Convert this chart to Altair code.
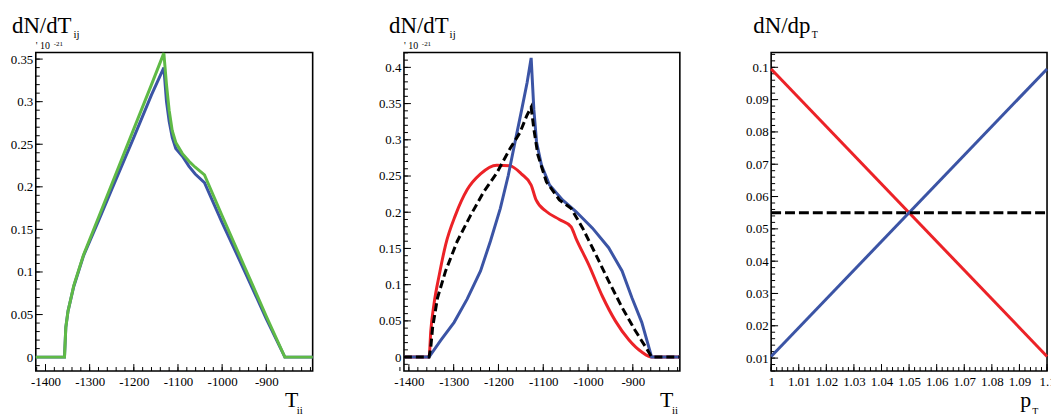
import altair as alt
import pandas as pd

FONT = "Liberation Serif"
BLUE = "#3b54a5"
GREEN = "#5fba46"
RED = "#ec2227"
BLACK = "#000000"

# ---------------- left panel: dN/dT_ij ----------------
left_T = [-1422, -1357, -1354, -1349, -1336, -1314, -1280, -1250, -1200, -1160, -1132,
          -1126, -1120, -1113, -1105, -1090, -1075, -1061, -1040, -1000, -950, -900, -858, -795]
left_blue = [0, 0, 0.035, 0.054, 0.083, 0.119, 0.160, 0.197, 0.258, 0.308, 0.340,
             0.300, 0.277, 0.258, 0.245, 0.236, 0.224, 0.215, 0.205, 0.158, 0.102, 0.045, 0, 0]
left_green = [0, 0, 0.035, 0.054, 0.084, 0.120, 0.164, 0.203, 0.268, 0.320, 0.357,
              0.320, 0.290, 0.266, 0.252, 0.239, 0.230, 0.223, 0.214, 0.166, 0.107, 0.048, 0, 0]

# ---------------- middle panel: dN/dT_ij ----------------
mid_red_T = [-1411, -1355, -1351, -1344, -1332, -1318, -1296, -1270, -1240, -1204, -1174,
             -1149, -1127, -1116, -1093, -1064, -1038, -1027, -998, -968, -939, -909, -880, -858, -795]
mid_red = [0, 0, 0.037, 0.073, 0.114, 0.155, 0.196, 0.231, 0.253, 0.265, 0.264,
           0.253, 0.2375, 0.217, 0.201, 0.190, 0.180, 0.164, 0.127, 0.084, 0.050, 0.024, 0.007, 0, 0]

mid_blue_T = [-1411, -1355, -1329, -1299, -1270, -1240, -1218, -1196, -1178, -1163, -1148,
              -1136, -1127, -1121, -1115, -1104, -1086, -1057, -1027, -990, -954, -924, -902,
              -880, -858, -795]
mid_blue = [0, 0, 0.023, 0.048, 0.080, 0.119, 0.160, 0.205, 0.251, 0.297, 0.342,
            0.379, 0.413, 0.342, 0.297, 0.265, 0.2375, 0.217, 0.201, 0.178, 0.151, 0.119, 0.082,
            0.048, 0, 0]

mid_dash_T = [-1411, -1355, -1351, -1347, -1336, -1318, -1292, -1262, -1233, -1204, -1174,
              -1152, -1137, -1127, -1121, -1112, -1093, -1064, -1038, -1012, -983, -954, -924,
              -895, -869, -858, -795]
mid_dash = [0, 0, 0.014, 0.041, 0.082, 0.119, 0.160, 0.196, 0.228, 0.254, 0.288,
            0.310, 0.333, 0.345, 0.315, 0.279, 0.242, 0.217, 0.2055, 0.178, 0.142, 0.105, 0.0685,
            0.037, 0.0115, 0, 0]

# ---------------- right panel: dN/dp_T ----------------
right_pT = [1.0, 1.1]
right_red = [0.0995, 0.0105]
right_blue = [0.0105, 0.0995]
right_dash = [0.055, 0.055]

# ---------------- axis ticks / labels ----------------
T_ticks = [-1400, -1300, -1200, -1100, -1000, -900]
left_yticks = [0, 0.05, 0.1, 0.15, 0.2, 0.25, 0.3, 0.35]
mid_yticks = [0, 0.05, 0.1, 0.15, 0.2, 0.25, 0.3, 0.35, 0.4]
right_xticks = [1, 1.01, 1.02, 1.03, 1.04, 1.05, 1.06, 1.07, 1.08, 1.09, 1.1]
right_yticks = [0.01, 0.02, 0.03, 0.04, 0.05, 0.06, 0.07, 0.08, 0.09, 0.1]

T_minor = list(range(-1420, -799, 20))
left_yminor = [round(i * 0.01, 2) for i in range(-1, 36)]
mid_yminor = [round(i * 0.01, 2) for i in range(-1, 43)]
right_xminor = [round(1 + i * 0.002, 3) for i in range(0, 51)]
right_yminor = [round(0.006 + i * 0.002, 3) for i in range(0, 50)]

PANEL_H = 321
MAJ = 7
MIN = 4
LABEL_SIZE = 13


def df_of(xs, ys):
    return pd.DataFrame({"x": xs, "y": ys})


def sc(dom):
    return alt.Scale(domain=dom, nice=False, zero=False)


def label_axis(vals, orient, pad):
    return alt.Axis(values=vals, orient=orient, labelExpr="'' + datum.value", ticks=False,
                    tickSize=0, domain=False, grid=False, title=None, labelPadding=pad,
                    labelFont=FONT, labelFontSize=LABEL_SIZE, labelColor="black",
                    labelFlush=False, labelOverlap=False)


def line(df, color, xs, ys, dash=None, xaxis=None, yaxis=None, interp="linear"):
    kw = dict(color=color, strokeWidth=3, interpolate=interp)
    if dash:
        kw["strokeDash"] = dash
    return alt.Chart(df).mark_line(**kw).encode(
        x=alt.X("x:Q", scale=xs, axis=xaxis),
        y=alt.Y("y:Q", scale=ys, axis=yaxis),
    )


def xticks(vals, xs, length):
    return alt.Chart(pd.DataFrame({"v": vals})).mark_rule(color="black", strokeWidth=1).encode(
        x=alt.X("v:Q", scale=xs, axis=None),
        y=alt.value(PANEL_H), y2=alt.value(PANEL_H - length))


def yticks(vals, ys, length):
    return alt.Chart(pd.DataFrame({"v": vals})).mark_rule(color="black", strokeWidth=1).encode(
        y=alt.Y("v:Q", scale=ys, axis=None),
        x=alt.value(0), x2=alt.value(length))


def txt(s, x, y, size):
    return alt.Chart(pd.DataFrame({"t": [s]})).mark_text(
        align="left", baseline="alphabetic", font=FONT, fontSize=size, color="black"
    ).encode(x=alt.value(x), y=alt.value(y), text="t:N")


def panel(lines, xdom, ydom, xt, xm, yt, ym, w, texts):
    xs, ys = sc(xdom), sc(ydom)
    layers = [xticks(xt, xs, MAJ), xticks(xm, xs, MIN), yticks(yt, ys, MAJ), yticks(ym, ys, MIN)]
    for i, (df, color, dash, interp) in enumerate(lines):
        layers.append(line(df, color, xs, ys, dash,
                           label_axis(xt, "bottom", 5) if i == 0 else None,
                           label_axis(yt, "left", 3) if i == 0 else None, interp))
    layers += texts
    return alt.layer(*layers).resolve_axis(x="independent", y="independent").properties(
        width=w, height=PANEL_H)


left = panel(
    [(df_of(left_T, left_blue), BLUE, None, "linear"),
     (df_of(left_T, left_green), GREEN, None, "linear")],
    [-1422, -795], [-0.0163, 0.3578], T_ticks, T_minor, left_yticks, left_yminor, 279,
    [txt("dN/dT", -24, -20, 23), txt("ij", 38, -15, 11), txt("' 10", 0, -3, 10),
     txt("-21", 18, -7, 7), txt("T", 251, 357, 22), txt("ii", 263, 364, 11)],
)

mid = panel(
    [(df_of(mid_red_T, mid_red), RED, None, "monotone"),
     (df_of(mid_blue_T, mid_blue), BLUE, None, "linear"),
     (df_of(mid_dash_T, mid_dash), BLACK, [8, 4], "linear")],
    [-1411, -795], [-0.0192, 0.4206], T_ticks, T_minor, mid_yticks, mid_yminor, 278,
    [txt("dN/dT", -15, -20, 23), txt("ij", 46, -15, 11), txt("' 10", 0, -3, 10),
     txt("-21", 18, -7, 7), txt("T", 258, 357, 22), txt("ii", 270, 364, 11)],
)

right = panel(
    [(df_of(right_pT, right_red), RED, None, "linear"),
     (df_of(right_pT, right_blue), BLUE, None, "linear"),
     (df_of(right_pT, right_dash), BLACK, [10, 4], "linear")],
    [1.0, 1.1], [0.006, 0.1046], right_xticks, right_xminor, right_yticks, right_yminor, 278,
    [txt("dN/dp", -18, -20, 23), txt("T", 41, -15, 10),
     txt("p", 251, 357, 22), txt("T", 263, 365, 10)],
)

chart = alt.hconcat(left, mid, right, spacing=92, bounds="flush").properties(
    padding={"left": 28, "top": 42, "right": 1023, "bottom": 364},
    autosize=alt.AutoSizeParams(type="none"),
).configure_view(stroke="black", strokeWidth=1.6).configure_axis(
    labelFont=FONT, labelFontSize=LABEL_SIZE, labelColor="black"
).configure_text(font=FONT)

chart.save("out.html", embed_options={"renderer": "svg", "actions": False})
